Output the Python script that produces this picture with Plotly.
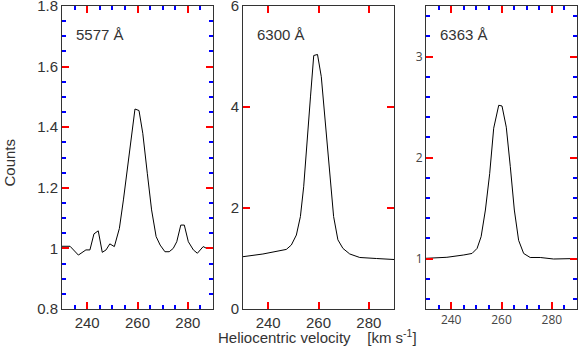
import plotly.graph_objects as go

# 5577 A line
v_5577 = [230, 233.2, 236.5, 239.5, 241.1, 242.7, 244.4, 246.0, 247.5, 249.0, 250.8,
          252.8, 254.4, 256.1, 257.7, 259.0, 260.6, 262.1, 263.9, 265.6, 267.4, 269.0,
          270.9, 272.6, 274.2, 275.6, 277.2, 278.6, 280.2, 282.2, 283.8, 286.1, 287.5, 290]
c_5577 = [1.007, 1.007, 0.978, 0.995, 0.995, 1.048, 1.058, 0.987, 0.995, 1.015, 1.006,
          1.066, 1.16, 1.27, 1.369, 1.46, 1.455, 1.38, 1.248, 1.127, 1.039, 1.011,
          0.989, 0.989, 1.0, 1.022, 1.077, 1.077, 1.022, 0.995, 0.984, 1.006, 1.0, 1.0]

# 6300 A line
v_6300 = [230, 237.9, 247.2, 249.2, 251.2, 252.8, 254.1, 255.4, 256.8, 258.1, 259.6,
          261.1, 262.7, 264.4, 266.0, 267.7, 269.7, 272.4, 276.4, 283.0, 288.3, 290]
c_6300 = [1.036, 1.089, 1.18, 1.267, 1.465, 1.83, 2.42, 3.35, 4.2, 5.02, 5.04,
          4.6, 3.68, 2.62, 1.83, 1.37, 1.2, 1.09, 1.02, 1.0, 0.99, 0.98]

# 6363 A line
v_6363 = [230, 238.3, 245.0, 248.3, 250.3, 251.9, 253.6, 255.3, 256.9, 258.9, 260.2,
          261.9, 263.5, 265.1, 266.8, 268.8, 271.4, 275.4, 280.7, 286.0, 290]
c_6363 = [1.002, 1.012, 1.035, 1.05, 1.1, 1.216, 1.48, 1.84, 2.29, 2.517, 2.51,
          2.3, 1.91, 1.48, 1.18, 1.05, 1.01, 1.01, 0.995, 1.0, 1.0]

panels = [
    ("5577 Å", v_5577, c_5577, [0.8, 1.8], 0.2, 0.05, [0.0, 0.2932]),
    ("6300 Å", v_6300, c_6300, [0, 6], 2, 0.5, [0.3515, 0.6447]),
    ("6363 Å", v_6363, c_6363, [0.5, 3.5], 1, 0.2, [0.7068, 1.0]),
]

FONT = "Liberation Sans, Arial, sans-serif"
INK = "#333333"

fig = go.Figure()
layout = {}
for i, (name, v, c, yr, ydt, yminor, dom) in enumerate(panels, start=1):
    sfx = "" if i == 1 else str(i)
    fig.add_trace(go.Scatter(x=v, y=c, mode="lines", line=dict(color="black", width=1),
                             xaxis="x" + sfx, yaxis="y" + sfx, showlegend=False))
    xa = dict(domain=dom, anchor="y" + sfx, showline=True, linecolor=INK, mirror="ticks",
              ticks="inside", ticklen=7, tickwidth=2, tickcolor="red", showgrid=False,
              range=[230, 290], dtick=20, tick0=240)
    ya = dict(domain=[0, 1], anchor="x" + sfx, showline=True, linecolor=INK, mirror="ticks",
              ticks="inside", ticklen=7, tickwidth=2, tickcolor="red", showgrid=False,
              range=yr, dtick=ydt, ticklabeloverflow="allow")
    if i == 1:
        # full styling incl. minor ticks and fonts
        for a, md in ((xa, 5), (ya, yminor)):
            a["minor"] = dict(dtick=md, ticks="inside", ticklen=4, tickcolor="blue")
            a["tickfont"] = dict(family=FONT, size=15, color=INK)
    elif i == 2:
        # fonts only, no minor ticks
        for a in (xa, ya):
            a["tickfont"] = dict(family=FONT, size=15, color=INK)
    else:
        # minor ticks only, default fonts
        for a, md in ((xa, 5), (ya, yminor)):
            a["minor"] = dict(dtick=md, ticks="inside", ticklen=4, tickcolor="blue")
    layout["xaxis" + sfx] = xa
    layout["yaxis" + sfx] = ya
    fig.add_annotation(text=name, xref="x" + sfx + " domain", yref="y" + sfx + " domain",
                       x=0.08, y=0.905, xanchor="left", yanchor="middle", showarrow=False,
                       font=dict(family=FONT, size=15, color=INK))

fig.add_annotation(text="Counts", xref="paper", yref="paper", x=-0.102, y=0.485,
                   textangle=-90, showarrow=False, xanchor="center", yanchor="middle",
                   font=dict(family=FONT, size=15, color=INK))
fig.add_annotation(text="Heliocentric velocity&nbsp;&nbsp;&nbsp; [km s<sup>-1</sup>]",
                   xref="paper", yref="paper", x=0.497, y=-0.128, showarrow=False,
                   xanchor="center", yanchor="bottom",
                   font=dict(family=FONT, size=15, color=INK))

fig.update_layout(
    template="none", width=578, height=347, margin=dict(l=62, r=1, t=6, b=38),
    paper_bgcolor="white", plot_bgcolor="white", **layout,
)

fig.write_html("out.html", config={"displayModeBar": False},
               post_script="document.body.style.margin='0';")
